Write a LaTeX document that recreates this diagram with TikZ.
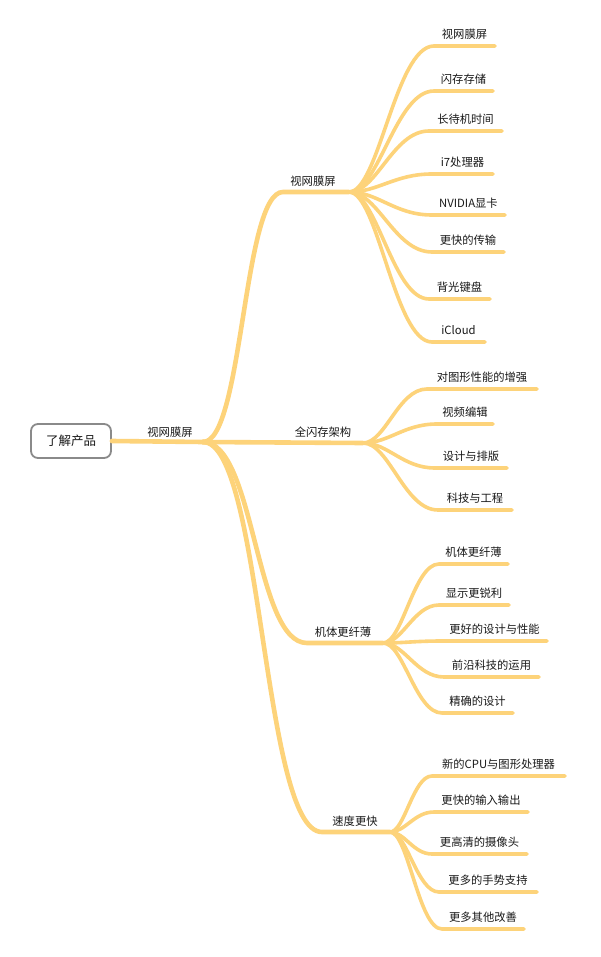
\documentclass[tikz,border=0pt]{standalone}
\usepackage{fontspec}
\setmainfont{Noto Sans CJK SC}
\usetikzlibrary{calc}
\definecolor{br}{RGB}{253,211,122}
\definecolor{boxgray}{RGB}{138,138,138}
\definecolor{txt}{RGB}{25,25,25}
\tikzset{
  mainline/.style={draw=br, line width=4.6pt, line cap=round},
  leafline/.style={draw=br, line width=3.6pt, line cap=round},
  lbl/.style={inner sep=0pt, font=\fontsize{11.3}{13}\selectfont, text=txt},
  rootbox/.style={draw=boxgray, line width=1.8pt, rounded corners=7pt, fill=white,
    minimum width=80pt, minimum height=34pt, inner sep=0pt,
    font=\fontsize{12.5}{14}\selectfont, text=txt}
}
% \leaf{id}{hub}{xs}{xe}{y}{label}
\newcommand\leaf[6]{%
  \coordinate (#1s) at (#3,#5);
  \coordinate (#1e) at (#4,#5);
  \node[lbl] (#1) at ({(#3+#4)/2},{#5-12}) {#6};
  \draw[leafline] let \p1=(#2), \p2=(#1s) in
    (\p1) .. controls ({\x1+0.35*(\x2-\x1)},\y1) and ({\x1+0.55*(\x2-\x1)},\y2) .. (\p2) -- (#1e);
}
% \mainbranch{start coord}{hub}
\newcommand\mainbranch[2]{%
  \draw[mainline] let \p1=(h0), \p2=(#1) in
    (\p1) .. controls ({\x1+0.5*(\x2-\x1)},\y1) and ({\x1+0.5*(\x2-\x1)},\y2) .. (\p2) -- (#2);
}
\begin{document}
\begin{tikzpicture}[x=1pt,y=-1pt]
\useasboundingbox[fill=white] (0,0) rectangle (600,957);
% hubs
\coordinate (h0) at (203,442);
\coordinate (hA) at (349,192);
\coordinate (hB) at (363,443);
\coordinate (hC) at (383,643);
\coordinate (hD) at (390,832);
% root
\node[lbl] (r1) at (170,432) {视网膜屏};
\node[rootbox] (root) at (71,441) {了解产品};
\draw[mainline] (root.east) -- (h0);
% level 1
\node[lbl] (A) at (313,181) {视网膜屏};
\coordinate (As) at (283,192);
\mainbranch{As}{hA}
\node[lbl] (B) at (323,432) {全闪存架构};
\draw[mainline] (h0) -- (hB);
\node[lbl] (C) at (343,632) {机体更纤薄};
\coordinate (Cs) at (307,643);
\mainbranch{Cs}{hC}
\node[lbl] (D) at (355,821) {速度更快};
\coordinate (Ds) at (322,832);
\mainbranch{Ds}{hD}
% leaves of A
\leaf{a1}{hA}{434}{495}{46}{视网膜屏}
\leaf{a2}{hA}{434}{493}{91}{闪存存储}
\leaf{a3}{hA}{429}{502}{131}{长待机时间}
\leaf{a4}{hA}{432}{493}{174}{i7处理器}
\leaf{a5}{hA}{432}{505}{215}{NVIDIA显卡}
\leaf{a6}{hA}{432}{504}{252}{更快的传输}
\leaf{a7}{hA}{429}{490}{299}{背光键盘}
\leaf{a8}{hA}{432}{485}{342}{iCloud}
% leaves of B
\leaf{b1}{hB}{427}{537}{389}{对图形性能的增强}
\leaf{b2}{hB}{437}{493}{424}{视频编辑}
\leaf{b3}{hB}{435}{507}{468}{设计与排版}
\leaf{b4}{hB}{438}{512}{510}{科技与工程}
% leaves of C
\leaf{c1}{hC}{439}{508}{564}{机体更纤薄}
\leaf{c2}{hC}{439}{509}{605}{显示更锐利}
\leaf{c3}{hC}{442}{547}{641}{更好的设计与性能}
\leaf{c4}{hC}{444}{539}{677}{前沿科技的运用}
\leaf{c5}{hC}{442}{513}{713}{精确的设计}
% leaves of D
\leaf{d1}{hD}{432}{565}{776}{新的CPU与图形处理器}
\leaf{d2}{hD}{434}{528}{812}{更快的输入输出}
\leaf{d3}{hD}{432}{527}{854}{更高清的摄像头}
\leaf{d4}{hD}{439}{537}{892}{更多的手势支持}
\leaf{d5}{hD}{442}{524}{929}{更多其他改善}
\end{tikzpicture}
\end{document}
